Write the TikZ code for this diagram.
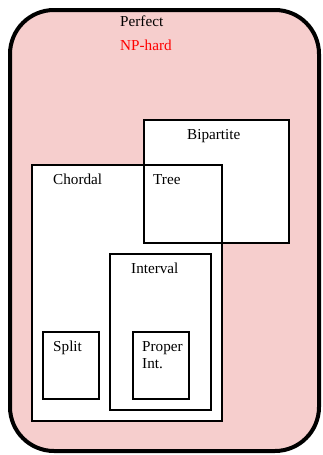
\documentclass[tikz,border=0pt]{standalone}
\usepackage{tikz}
\usepackage{fontspec}
\setmainfont{Liberation Serif}
\definecolor{perfectfill}{RGB}{246,206,205}
\definecolor{hardred}{RGB}{255,0,0}
\tikzset{
  classbox/.style={draw=black, line width=2pt, fill=white},
  classedge/.style={draw=black, line width=2pt},
  label/.style={anchor=base west, inner sep=0pt, font=\fontsize{15.2}{18}\selectfont},
}
\begin{document}
\begin{tikzpicture}[x=1pt,y=-1pt]
\useasboundingbox (0,0) rectangle (322,455);
% outer class: perfect graphs
\draw[line width=4pt, fill=perfectfill, rounded corners=44pt] (10,10) rectangle (319,451);
% white interiors of the overlapping classes
\fill[white] (32,165) rectangle (222,421);
\fill[white] (144,120) rectangle (289,243);
% outlines
\draw[classedge] (32,165) rectangle (222,421);
\draw[classedge] (144,120) rectangle (289,243);
\draw[classbox] (110,254) rectangle (211,410);
\draw[classbox] (43,332) rectangle (99,399);
\draw[classbox] (133,332) rectangle (189,399);
% labels
\node[label] (perfect) at (120,27) {Perfect};
\node[label, text=hardred] (nphard) at (120,50) {NP-hard};
\node[label] (bipartite) at (187,139) {Bipartite};
\node[label] (chordal) at (53,184) {Chordal};
\node[label] (tree) at (153,184) {Tree};
\node[label] (interval) at (131,273) {Interval};
\node[label] (split) at (53,351) {Split};
\node[label] (proper) at (142,351) {Proper};
\node[label] (int) at (142,368) {Int.};
\end{tikzpicture}
\end{document}
